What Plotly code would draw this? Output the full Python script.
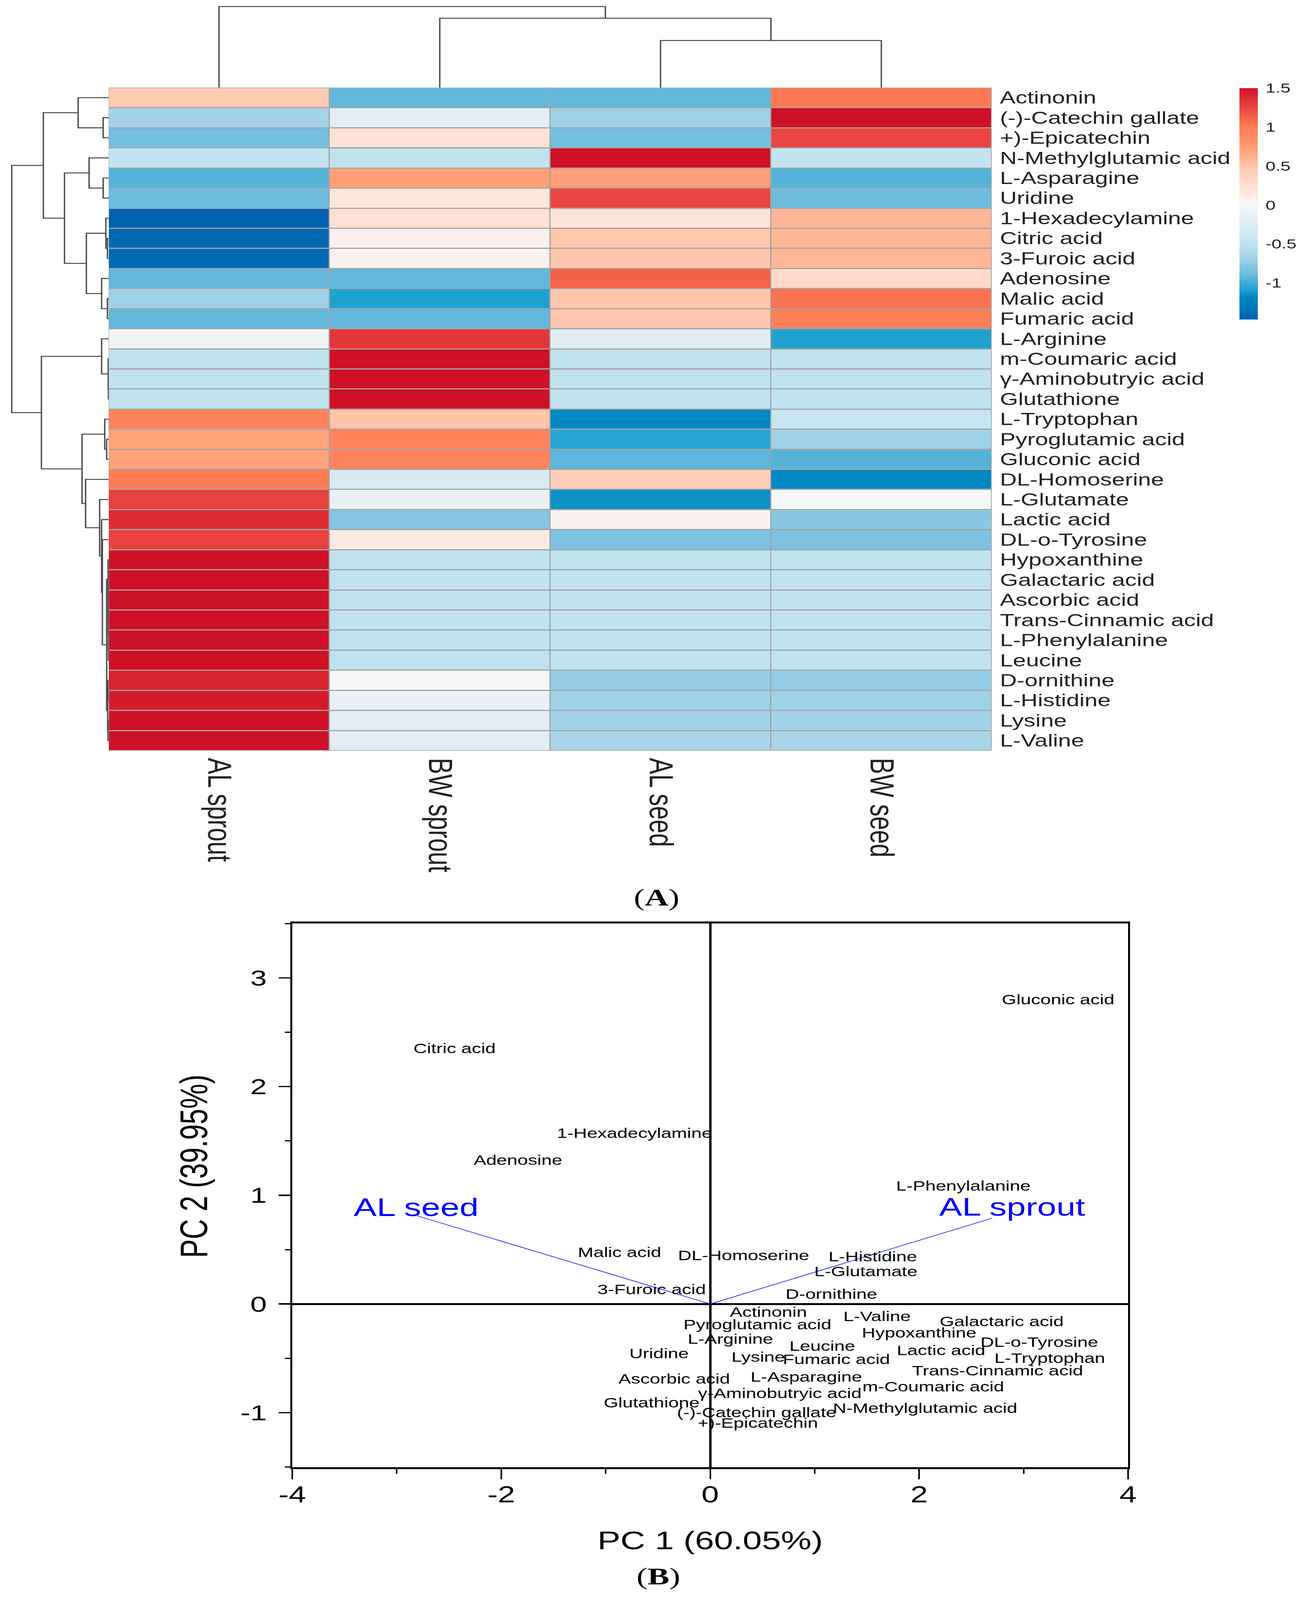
import plotly.graph_objects as go

W, H = 3350, 5608
FONT = "Liberation Sans"

# ---------- panel A data ----------
samples = ["AL sprout", "BW sprout", "AL seed", "BW seed"]
metabolites = ["Actinonin", "(-)-Catechin gallate", "+)-Epicatechin", "N-Methylglutamic acid",
               "L-Asparagine", "Uridine", "1-Hexadecylamine", "Citric acid", "3-Furoic acid",
               "Adenosine", "Malic acid", "Fumaric acid", "L-Arginine", "m-Coumaric acid",
               "γ-Aminobutryic acid", "Glutathione", "L-Tryptophan", "Pyroglutamic acid",
               "Gluconic acid", "DL-Homoserine", "L-Glutamate", "Lactic acid", "DL-o-Tyrosine",
               "Hypoxanthine", "Galactaric acid", "Ascorbic acid", "Trans-Cinnamic acid",
               "L-Phenylalanine", "Leucine", "D-ornithine", "L-Histidine", "Lysine", "L-Valine"]
al_sprout = [0.45, -0.68, -0.85, -0.48, -0.95, -0.88, -1.46, -1.42, -1.42, -0.92, -0.7, -0.92, -0.08,
             -0.5, -0.5, -0.5, 0.95, 0.7, 0.7, 1.0, 1.27, 1.38, 1.27,
             1.5, 1.5, 1.5, 1.5, 1.5, 1.5, 1.42, 1.45, 1.5, 1.5]
bw_sprout = [-0.92, -0.2, 0.22, -0.5, 0.72, 0.2, 0.25, 0.07, 0.07, -0.92, -1.08, -0.92, 1.32,
             1.5, 1.5, 1.5, 0.5, 0.95, 0.95, -0.3, -0.13, -0.8, 0.14,
             -0.5, -0.5, -0.5, -0.5, -0.5, -0.5, -0.03, -0.13, -0.2, -0.2]
al_seed = [-0.92, -0.7, -0.85, 1.5, 0.72, 1.25, 0.22, 0.48, 0.48, 1.12, 0.48, 0.48, -0.22,
           -0.5, -0.5, -0.5, -1.18, -1.06, -0.93, 0.42, -1.14, 0.05, -0.82,
           -0.5, -0.5, -0.5, -0.5, -0.5, -0.5, -0.74, -0.7, -0.68, -0.64]
bw_seed = [1.02, 1.5, 1.25, -0.48, -0.95, -0.88, 0.58, 0.58, 0.58, 0.3, 1.05, 0.98, -1.08,
           -0.5, -0.5, -0.5, -0.43, -0.7, -0.95, -1.18, -0.03, -0.78, -0.82,
           -0.5, -0.5, -0.5, -0.5, -0.5, -0.5, -0.74, -0.7, -0.68, -0.64]

# colour stops: (value, colour)
color_stops = [(-1.47, "#0062ae"), (-1.18, "#0088c2"), (-1.08, "#1fa2d0"), (-0.92, "#62b7dc"),
               (-0.7, "#9fd1e7"), (-0.5, "#c0e2ef"), (-0.2, "#e2eef4"), (0.0, "#f7f7f7"),
               (0.25, "#ffe0d2"), (0.5, "#ffc4aa"), (0.7, "#ffa27a"), (1.0, "#ff7d55"),
               (1.25, "#ea4540"), (1.5, "#cf1127")]
bar_ticks = [-1, -0.5, 0, 0.5, 1, 1.5]
bar_tick_text = ["-1", "-0.5", "0", "0.5", "1", "1.5"]

# dendrograms: nested (merge height, child, child); integers are leaves
col_tree = (284, 0, (243, 1, (165, 2, 3)))
row_a = (78, 0, (14, 1, 2))
row_b = (50, 3, (14, 4, 5))
row_c = (7, 6, (3, 7, 8))
row_d = (18, 9, (3, 10, 11))
row_e = (18, 12, (1, 13, (0.5, 14, 15)))
row_f = (10, 16, (5, 17, 18))
row_x = (1.5, 23, (1.2, 24, (1, 25, (0.8, 26, (0.6, 27, 28)))))
row_y = (2.5, (2, 29, 30), (1.5, 31, 32))
row_h = (23, 20, (18, 21, (16, 22, (5, row_x, row_y))))
row_g = (59, 19, row_h)
row_upper = (167, row_a, (113, row_b, (57, row_c, row_d)))
row_lower = (172, row_e, (68, row_f, row_g))
row_tree = (248, row_upper, row_lower)

# ---------- panel B data ----------
pca_names = ["Citric acid", "1-Hexadecylamine", "Adenosine", "Malic acid", "3-Furoic acid", "DL-Homoserine",
             "L-Histidine", "L-Glutamate", "D-ornithine", "Actinonin", "L-Valine", "Galactaric acid",
             "Pyroglutamic acid", "Hypoxanthine", "L-Arginine", "DL-o-Tyrosine", "Leucine", "Lactic acid",
             "Uridine", "Lysine", "Fumaric acid", "L-Tryptophan", "Trans-Cinnamic acid", "L-Asparagine",
             "Ascorbic acid", "m-Coumaric acid", "γ-Aminobutryic acid", "Glutathione",
             "N-Methylglutamic acid", "(-)-Catechin gallate", "+)-Epicatechin", "Gluconic acid", "L-Phenylalanine"]
pca_x = [-2.447, -0.725, -1.84, -0.868, -0.56, 0.32, 1.556, 1.49, 1.16, 0.557, 1.597, 2.79,
         0.452, 2.0, 0.194, 3.15, 1.073, 2.21, -0.49, 0.46, 1.208, 3.25, 2.75, 0.92,
         -0.344, 2.135, 0.666, -0.56, 2.057, 0.445, 0.456, 3.33, 2.423]
pca_y = [2.34, 1.56, 1.31, 0.462, 0.123, 0.436, 0.425, 0.286, 0.08, -0.087, -0.126, -0.171,
         -0.2, -0.278, -0.333, -0.362, -0.4, -0.438, -0.467, -0.5, -0.522, -0.512, -0.625, -0.682,
         -0.7, -0.774, -0.832, -0.92, -0.969, -1.01, -1.108, 2.79, 1.076]
group_names = ["AL seed", "AL sprout"]
group_label_x = [-2.814, 2.89]
group_label_y = [0.866, 0.869]
arrow_x = [-2.80, 2.70]
arrow_y = [0.81, 0.79]
pc1_ticks = [-4, -2, 0, 2, 4]
pc1_tick_text = ["-4", "-2", "0", "2", "4"]
pc2_ticks = [-1, 0, 1, 2, 3]
pc2_tick_text = ["-1", "0", "1", "2", "3"]


def tree_lines(node):
    """Return (position, height, xs, ys) of a merge tree, in (leaf position, height)."""
    if not isinstance(node, tuple):
        return float(node), 0.0, [], []
    h, a, b = node
    pa, ha, xa, ya = tree_lines(a)
    pb, hb, xb, yb = tree_lines(b)
    xs = xa + xb + [pa, pa, pb, pb, None]
    ys = ya + yb + [ha, h, h, hb, None]
    return (pa + pb) / 2, h, xs, ys


def fx(px):
    return px / W


def fy(px):
    return 1 - px / H


fig = go.Figure()

# heat map
zmin, zmax = color_stops[0][0], color_stops[-1][0]
colorscale = [[(v - zmin) / (zmax - zmin), c] for v, c in color_stops]
z = [list(r) for r in zip(al_sprout, bw_sprout, al_seed, bw_seed)]
fig.add_trace(go.Heatmap(
    z=z, x=samples, y=metabolites, zmin=zmin, zmax=zmax, colorscale=colorscale,
    xgap=3, ygap=4, xaxis="x", yaxis="y", hoverinfo="skip",
    colorbar=dict(x=fx(3172), xanchor="left", thickness=47, thicknessmode="pixels",
                  len=811, lenmode="pixels", y=fy(309), yanchor="top", xpad=0, ypad=0,
                  outlinewidth=0, tickvals=bar_ticks, ticktext=bar_tick_text, ticks="outside",
                  ticklen=11, tickcolor="rgba(0,0,0,0)", tickfont=dict(family=FONT, size=46, color="#222"))))

# dendrograms
_, _, cx, cy = tree_lines(col_tree)
fig.add_trace(go.Scatter(x=cx, y=cy, mode="lines", line=dict(color="#4a4a4a", width=3.5),
                         xaxis="x2", yaxis="y2", hoverinfo="skip", showlegend=False))
_, _, rp, rh = tree_lines(row_tree)
fig.add_trace(go.Scatter(x=rh, y=rp, mode="lines", line=dict(color="#4a4a4a", width=3.5),
                         xaxis="x3", yaxis="y3", hoverinfo="skip", showlegend=False))

# biplot
for ax, ay in zip(arrow_x, arrow_y):
    fig.add_trace(go.Scatter(x=[0, ax], y=[0, ay], mode="lines", line=dict(color="#0000ff", width=2),
                             xaxis="x4", yaxis="y4", hoverinfo="skip", showlegend=False))
fig.add_trace(go.Scatter(x=pca_x, y=pca_y, text=pca_names, mode="text", textposition="middle center",
                         textfont=dict(family=FONT, size=48, color="#000"),
                         xaxis="x4", yaxis="y4", hoverinfo="skip", showlegend=False))
fig.add_trace(go.Scatter(x=group_label_x, y=group_label_y, text=group_names, mode="text",
                         textposition="middle center", textfont=dict(family=FONT, size=88, color="#0000ff"),
                         xaxis="x4", yaxis="y4", hoverinfo="skip", showlegend=False))

hm_x = [fx(278), fx(2538)]
hm_y = [fy(2631), fy(307)]
hidden = dict(visible=False, showgrid=False, zeroline=False)
mid = dict(xref="paper", yref="paper", showarrow=False, xanchor="center", yanchor="middle")

fig.update_layout(
    width=W, height=H, margin=dict(l=0, r=0, t=0, b=0, autoexpand=False),
    paper_bgcolor="white", plot_bgcolor="rgba(0,0,0,0)", showlegend=False,
    font=dict(family=FONT, color="#000"),
    xaxis=dict(domain=hm_x, anchor="y", type="category", range=[-0.5, 3.5], side="bottom",
               tickangle=90, tickfont=dict(family=FONT, size=86, color="#222"),
               ticks="outside", ticklen=7, tickcolor="rgba(0,0,0,0)", showgrid=False, zeroline=False),
    yaxis=dict(domain=hm_y, anchor="x", type="category", autorange=False, range=[32.5, -0.5], side="right",
               tickmode="array", tickvals=metabolites, ticktext=metabolites,
               tickfont=dict(family=FONT, size=60, color="#222"),
               ticks="outside", ticklen=8, tickcolor="rgba(0,0,0,0)", showgrid=False, zeroline=False),
    xaxis2=dict(domain=hm_x, anchor="y2", range=[-0.5, 3.5], **hidden),
    yaxis2=dict(domain=[fy(307), 1], anchor="x2", range=[0, 307], **hidden),
    xaxis3=dict(domain=[0, fx(278)], anchor="y3", range=[278, 0], **hidden),
    yaxis3=dict(domain=hm_y, anchor="x3", range=[32.5, -0.5], **hidden),
    xaxis4=dict(domain=[fx(748), fx(2887)], anchor="y4", range=[-4, 4],
                tickmode="array", tickvals=pc1_ticks, ticktext=pc1_tick_text,
                showline=True, linewidth=7, linecolor="#000", mirror=True,
                ticks="outside", ticklen=36, tickwidth=4, tickcolor="#000", ticklabelstandoff=-15,
                minor=dict(dtick=1, tick0=-4, ticklen=17, tickwidth=4, tickcolor="#000", ticks="outside", showgrid=False),
                showgrid=False, zeroline=True, zerolinewidth=6, zerolinecolor="#000",
                tickfont=dict(family=FONT, size=80)),
    yaxis4=dict(domain=[fy(5142), fy(3237)], anchor="x4", range=[-1.5, 3.5],
                tickmode="array", tickvals=pc2_ticks, ticktext=pc2_tick_text,
                showline=True, linewidth=5, linecolor="#000", mirror=True,
                ticks="outside", ticklen=30, tickwidth=5, tickcolor="#000", ticklabelstandoff=15,
                minor=dict(dtick=0.5, tick0=0, ticklen=14, tickwidth=4, tickcolor="#000", ticks="outside", showgrid=False),
                showgrid=False, zeroline=True, zerolinewidth=7, zerolinecolor="#000",
                tickfont=dict(family=FONT, size=76)),
    annotations=[
        dict(text="PC 1 (60.05%)", x=fx(1817), y=fy(5399), font=dict(family=FONT, size=88, color="#000"), **mid),
        dict(text="PC 2 (39.95%)", x=fx(496), y=fy(4087), textangle=-90,
             font=dict(family=FONT, size=98, color="#000"), **mid),
        dict(text="(<b>A</b>)", x=fx(1681), y=fy(3145), font=dict(family="Liberation Serif", size=84, color="#000"), **mid),
        dict(text="(<b>B</b>)", x=fx(1685), y=fy(5525), font=dict(family="Liberation Serif", size=84, color="#000"), **mid),
    ],
)
# grey cell borders show through the heat map's gaps
fig.add_shape(type="rect", xref="paper", yref="paper", x0=hm_x[0], x1=hm_x[1], y0=hm_y[0], y1=hm_y[1],
              fillcolor="#a4a4a4", line=dict(width=0), layer="below")

# No body margin; if the browser window is shorter than the figure, compress the
# figure vertically so the whole chart stays in view. No effect at full window height.
fit_script = """
document.body.style.margin = '0';
document.documentElement.style.overflow = 'hidden';
var s = window.innerHeight / 5608;
if (s < 1) {
  var g = document.getElementById('{plot_id}');
  g.style.transformOrigin = '0 0';
  g.style.transform = 'scale(1,' + s + ')';
}
"""
fig.write_html("out.html", post_script=fit_script, config={"displayModeBar": False})
